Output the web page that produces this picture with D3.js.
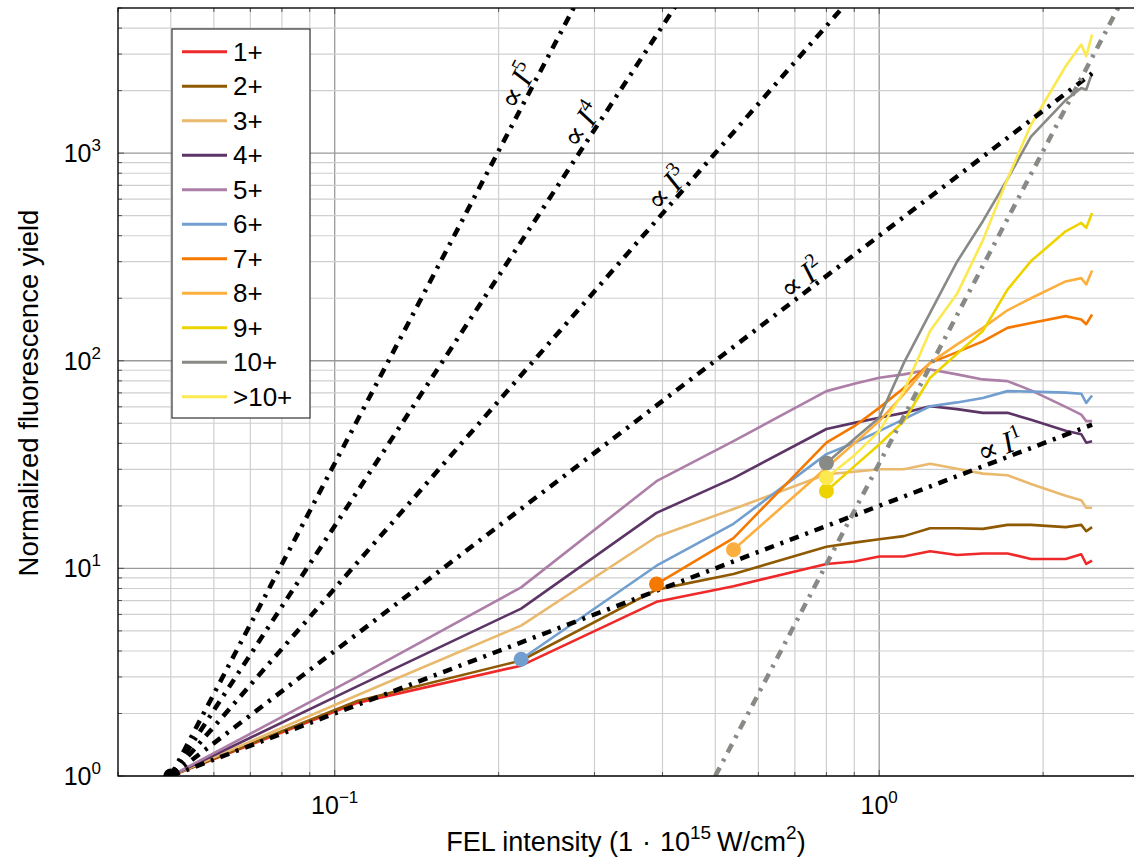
<!DOCTYPE html>
<html><head><meta charset="utf-8">
<script src="https://cdn.jsdelivr.net/npm/d3@7"></script>
<style>
html,body{margin:0;padding:0;background:#fff;overflow:hidden}
svg{display:block;font-family:'Liberation Sans',Arial,sans-serif}
</style></head><body>
<div id="chart"></div>
<script>
// fluorescence yield vs FEL intensity, log-log

const xs = [0.05, 0.11, 0.22, 0.39, 0.54, 0.80, 0.90, 1.0, 1.11, 1.24, 1.39, 1.55, 1.72, 1.90, 2.20, 2.35, 2.40, 2.46];

const seriesLabels = ["1+","2+","3+","4+","5+","6+","7+","8+","9+","10+",">10+"];
const seriesColors = ["#ef2929","#8f5902","#e9b96e","#5c3566","#ad7fa8","#729fcf","#f57900","#fcaf3e","#edd400","#888a85","#fce94f"];

const y1p  = [1, 2.25, 3.4, 6.9, 8.2, 10.5, 10.8, 11.4, 11.4, 12.1, 11.6, 11.8, 11.8, 11.1, 11.1, 11.7, 10.5, 10.9];
const y2p  = [1, 2.3, 3.6, 7.9, 9.4, 12.7, 13.3, 13.8, 14.3, 15.6, 15.6, 15.5, 16.2, 16.2, 15.8, 16.2, 15.1, 15.8];
const y3p  = [1, 2.45, 5.3, 14.2, 19.3, 28.4, 29.2, 30.0, 30.0, 31.9, 30.2, 28.6, 28.1, 25.5, 22.4, 21.3, 19.6, 19.6];
const y4p  = [1, 2.7, 6.4, 18.5, 27.2, 46.9, 50.2, 53.1, 56.1, 60.4, 58.5, 56.1, 56.1, 52.0, 46.0, 44.3, 40.3, 41.0];
const y5p  = [1, 3.0, 8.1, 26.3, 41, 71.4, 77.4, 82.8, 86, 90.8, 86, 81.3, 79.8, 72, 60, 55, 51.2, 51.2];
const y6p  = [null, null, 3.65, 10.3, 16.4, 35.5, 40.3, 45.8, 52.3, 60.4, 63, 66.2, 71.4, 71, 70.2, 69.4, 62.7, 68];
const y7p  = [null, null, null, 8.4, 14.0, 40.3, 48.4, 59.3, 74, 97.7, 110, 124, 144, 152, 164, 158, 150, 167];
const y8p  = [null, null, null, null, 12.3, 30.5, 40, 51.2, 69, 97.7, 120, 144, 175, 200, 241, 250, 233, 272];
const y9p  = [null, null, null, null, null, 23.6, 31, 39.5, 51.2, 82.8, 108, 139, 220, 302, 420, 461, 437, 515];
const y10p = [null, null, null, null, null, 32.2, 42, 53.1, 97.7, 170, 300, 470, 750, 1200, 1800, 2060, 2020, 2430];
const y11p = [null, null, null, null, null, 27.3, 35, 45.8, 71.4, 139, 210, 380, 750, 1370, 2620, 3334, 2930, 3724];
const seriesValues = [y1p,y2p,y3p,y4p,y5p,y6p,y7p,y8p,y9p,y10p,y11p];

// reference power laws  y = (I / I0)^n
const powerOrders = [1, 2, 3, 4, 5];
const powerStart = 0.05, powerEnd = 2.46;
const powerLabelX = [1.70, 0.745, 0.425, 0.298, 0.228];
const steepStart = 0.5, steepOrder = 5, steepEnd = 3;

const xMajor = [0.1, 1], yMajor = [1, 10, 100, 1000];
const xTickText = ["\u22121", "0"], yTickText = ["0","1","2","3"];

const totalW = 1134, totalH = 861;
const margin = { top: 8, left: 118 };
const W = 1021, H = 768;

const svg = d3.select("#chart").append("svg")
  .attr("width", totalW).attr("height", totalH);

const g = svg.append("g").attr("transform", `translate(${margin.left},${margin.top})`);

const xScale = d3.scaleLog().domain([0.04, 3]).range([0, W]);
const yScale = d3.scaleLog().domain([1, 5000]).range([H, 0]);

svg.append("defs").append("clipPath").attr("id","plotclip")
  .append("rect").attr("width", W).attr("height", H);

const isMajor = v => Math.abs(Math.log10(v) - Math.round(Math.log10(v))) < 1e-6;

// grid
const grid = g.append("g");
grid.selectAll("line.gx").data(xScale.ticks()).join("line").attr("class","gx")
  .attr("x1", d=>xScale(d)).attr("x2", d=>xScale(d)).attr("y1",0).attr("y2",H)
  .attr("stroke", d=>isMajor(d) ? "#9a9a9a" : "#cfcfcf").attr("stroke-width", d=>isMajor(d)?1.3:1.2);
grid.selectAll("line.gy").data(yScale.ticks()).join("line").attr("class","gy")
  .attr("y1", d=>yScale(d)).attr("y2", d=>yScale(d)).attr("x1",0).attr("x2",W)
  .attr("stroke", d=>isMajor(d) ? "#9a9a9a" : "#cfcfcf").attr("stroke-width", d=>isMajor(d)?1.3:1.2);

// inner ticks
const tk = g.append("g").attr("stroke","#555").attr("stroke-width",1);
xScale.ticks().forEach(d=>{
  const L = isMajor(d) ? 6 : 4, x = xScale(d);
  tk.append("line").attr("x1",x).attr("x2",x).attr("y1",H).attr("y2",H-L);
  tk.append("line").attr("x1",x).attr("x2",x).attr("y1",0).attr("y2",L);
});
yScale.ticks().forEach(d=>{
  const L = isMajor(d) ? 6 : 4, y = yScale(d);
  tk.append("line").attr("y1",y).attr("y2",y).attr("x1",0).attr("x2",L);
});

const plot = g.append("g").attr("clip-path","url(#plotclip)");

const line = d3.line()
  .defined(d=>d[1] !== null)
  .x(d=>xScale(d[0])).y(d=>yScale(d[1]));

const series = seriesLabels.map((lab,i)=>({
  label: lab, color: seriesColors[i],
  pts: xs.map((x,j)=>[x, seriesValues[i][j]])
}));

plot.selectAll("path.series").data(series).join("path").attr("class","series")
  .attr("d", d=>line(d.pts)).attr("fill","none")
  .attr("stroke", d=>d.color).attr("stroke-width",2.6).attr("stroke-linejoin","round");

// power law guides
const DASH = "9.5,7,3,7";
powerOrders.forEach(n=>{
  const pts = [powerStart, powerEnd].map(x=>[x, Math.pow(x/powerStart, n)]);
  plot.append("path").attr("d", line(pts)).attr("fill","none")
    .attr("stroke","#000").attr("stroke-width",4.5).attr("stroke-dasharray",DASH);
});
const steepPts = [steepStart, steepEnd].map(x=>[x, Math.pow(x/steepStart, steepOrder)]);
plot.append("path").attr("d", line(steepPts)).attr("fill","none")
  .attr("stroke","#888a85").attr("stroke-width",4.5).attr("stroke-dasharray",DASH);

// start markers
plot.selectAll("circle.start").data(series.filter((d,i)=>i>=5)).join("circle").attr("class","start")
  .attr("cx", d=>xScale(d.pts.find(p=>p[1]!==null)[0]))
  .attr("cy", d=>yScale(d.pts.find(p=>p[1]!==null)[1]))
  .attr("r",7.5).attr("fill", d=>d.color);
plot.append("circle").attr("cx", xScale(powerStart)).attr("cy", yScale(1)).attr("r",7.5).attr("fill","#000");

// power law labels
powerOrders.forEach((n,i)=>{
  const x = powerLabelX[i];
  const px = xScale(x), py = yScale(Math.pow(x/powerStart, n));
  const px2 = xScale(x*1.1), py2 = yScale(Math.pow(x*1.1/powerStart, n));
  const ang = Math.atan2(py2-py, px2-px) * 180/Math.PI;
  const t = g.append("text").attr("transform",`translate(${px},${py}) rotate(${ang})`)
    .attr("text-anchor","middle").attr("dy",-3)
    .style("font-family","'Liberation Serif','DejaVu Serif',serif").style("font-size","31px");
  t.append("tspan").style("font-family","'DejaVu Serif',serif").style("font-size","30px").text("\u221D");
  t.append("tspan").text("\u2009");
  t.append("tspan").style("font-style","italic").text("I");
  t.append("tspan").attr("dy",-12).style("font-size","20px").text(n);
});

// frame
g.append("rect").attr("width",W).attr("height",H).attr("fill","none")
  .attr("stroke","#000").attr("stroke-width",1.3);

// tick labels
xMajor.forEach((v,i)=>{
  const t = svg.append("text").attr("x", margin.left + xScale(v)).attr("y", 814)
    .attr("text-anchor","middle").attr("fill","#000").style("font-size","25px");
  t.append("tspan").text("10");
  t.append("tspan").attr("dy",-11).style("font-size","17px").text(xTickText[i]);
});
yMajor.forEach((v,i)=>{
  const t = svg.append("text").attr("x", 101).attr("y", margin.top + yScale(v) + 9)
    .attr("text-anchor","end").attr("fill","#000").style("font-size","25px");
  t.append("tspan").text("10");
  t.append("tspan").attr("dy",-11).style("font-size","17px").text(yTickText[i]);
});

// axis titles
const xt = svg.append("text").attr("x",626).attr("y",851).attr("text-anchor","middle")
  .attr("fill","#000").style("font-size","27px");
xt.append("tspan").text("FEL intensity (1");
xt.append("tspan").attr("dx",9).text("\u00B7");
xt.append("tspan").attr("dx",9).text("10");
xt.append("tspan").attr("dy",-12).style("font-size","19px").text("15");
xt.append("tspan").attr("dy",12).attr("dx",6).text("W/cm");
xt.append("tspan").attr("dy",-12).style("font-size","19px").text("2");
xt.append("tspan").attr("dy",12).text(")");

svg.append("text").attr("transform","translate(38,393) rotate(-90)").attr("text-anchor","middle")
  .attr("fill","#000").style("font-size","27.5px").text("Normalized fluorescence yield");

// legend
const lg = svg.append("g");
lg.append("rect").attr("x",172).attr("y",29).attr("width",138).attr("height",389)
  .attr("fill","#fff").attr("stroke","#333").attr("stroke-width",1.2);
series.forEach((s,i)=>{
  const y = 51.7 + i*34.5;
  lg.append("line").attr("x1",182).attr("x2",227).attr("y1",y).attr("y2",y)
    .attr("stroke",s.color).attr("stroke-width",3);
  lg.append("text").attr("x",233).attr("y",y+9).attr("fill","#000")
    .style("font-size","26px").text(s.label);
});
</script>
</body></html>
